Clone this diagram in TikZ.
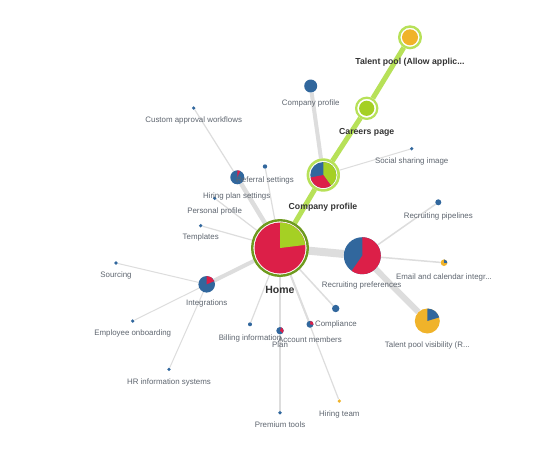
\documentclass[tikz,border=0pt]{standalone}
\usepackage{fontspec}
\setmainfont{Liberation Sans}
\usepackage{tikz}
\usetikzlibrary{backgrounds}
\definecolor{ob-red}{HTML}{DC1F48}
\definecolor{ob-blue}{HTML}{31679D}
\definecolor{ob-green}{HTML}{A5D024}
\definecolor{ob-orange}{HTML}{F0B32A}
\definecolor{ob-ring}{HTML}{6E9A1E}
\definecolor{ob-lime}{HTML}{B7E158}
\definecolor{ob-edge}{HTML}{DDDDDD}
\definecolor{ob-text}{HTML}{5F6670}
\definecolor{ob-bold}{HTML}{333333}

% node, start angle, end angle, radius (pt), colour
\newcommand{\pieslice}[5]{%
  \fill[#5] (#1.center) -- ++(#2:#4pt) arc[start angle=#2, end angle=#3, radius=#4pt] -- cycle;}

\tikzset{
  blob/.style={circle, inner sep=0pt, minimum size=#1pt},
  ringed/.style={circle, inner sep=0pt, fill=white, draw=#1},
  lbl/.style={font=\fontsize{7.9}{9}\selectfont, text=ob-text, inner sep=0pt,
    text height=5.9pt, text depth=1.6pt},
  hub/.style={font=\bfseries\fontsize{8.7}{10}\selectfont, text=ob-bold, inner sep=0pt,
    text height=6.4pt, text depth=1.8pt},
  link/.style={ob-edge, line width=#1pt},
  trail/.style={ob-lime, line width=5pt},
}

\begin{document}
\begin{tikzpicture}[x=1pt, y=-1pt, line cap=round, line join=round]
  \useasboundingbox (0,0) rectangle (560,451);

  % main route
  \node[ringed=ob-ring, line width=2.4pt, minimum size=55.6pt] (home) at (280,248) {};
  \node[ringed=ob-lime, line width=2.6pt, minimum size=30.8pt] (cpmain) at (323.3,175) {};
  \node[ringed=ob-lime, line width=2.2pt, minimum size=21.2pt] (careers) at (366.7,108.3) {};
  \node[ringed=ob-lime, line width=2.4pt, minimum size=21.6pt] (tpool) at (410,37.3) {};

  % pages
  \node[blob=13, fill=ob-blue] (cpsmall) at (310.7,86) {};
  \node[blob=3.6, fill=ob-blue] (social) at (411.7,148.7) {};
  \node[blob=14, fill=ob-blue] (hiringplan) at (237.3,177.3) {};
  \node[blob=3.6, fill=ob-blue] (custom) at (193.7,108) {};
  \node[blob=4.4, fill=ob-blue] (referral) at (265,166.5) {};
  \node[blob=3.6, fill=ob-blue] (personal) at (214.7,198.3) {};
  \node[blob=3.6, fill=ob-blue] (templates) at (200.7,225.7) {};
  \node[blob=16.6, fill=ob-blue] (integrations) at (206.7,284.3) {};
  \node[blob=3.6, fill=ob-blue] (sourcing) at (116,263) {};
  \node[blob=3.6, fill=ob-blue] (onboarding) at (132.7,321) {};
  \node[blob=3.6, fill=ob-blue] (hris) at (169,369.3) {};
  \node[blob=37, fill=ob-blue] (recpref) at (362.3,255.7) {};
  \node[blob=6, fill=ob-blue] (rpipe) at (438.3,202.3) {};
  \node[blob=6.6, fill=ob-orange] (email) at (444,262.7) {};
  \node[blob=25, fill=ob-orange] (tpvis) at (427.3,321) {};
  \node[blob=4, fill=ob-blue] (billing) at (250,324.3) {};
  \node[blob=7.4, fill=ob-blue] (plan) at (280,330.7) {};
  \node[blob=7, fill=ob-blue] (account) at (310,324.3) {};
  \node[blob=7.4, fill=ob-blue] (compliance) at (335.7,308.5) {};
  \node[blob=3.6, fill=ob-blue] (premium) at (280,412.7) {};
  \node[blob=3.6, fill=ob-orange] (hiringteam) at (339.3,401) {};

  \begin{pgfonlayer}{background}
    \fill[white] (0,0) rectangle (560,451);
    \draw[trail] (home) -- (cpmain) -- (careers) -- (tpool);
    \draw[link=4] (cpmain) -- (cpsmall);
    \draw[link=1] (cpmain) -- (social);
    \draw[link=4.5] (home) -- (hiringplan);
    \draw[link=1.2] (hiringplan) -- (custom);
    \draw[link=1.2] (home) -- (referral);
    \draw[link=1.2] (home) -- (personal);
    \draw[link=1.2] (home) -- (templates);
    \draw[link=4] (home) -- (integrations);
    \draw[link=1] (integrations) -- (sourcing);
    \draw[link=1] (integrations) -- (onboarding);
    \draw[link=1] (integrations) -- (hris);
    \draw[link=8] (home) -- (recpref);
    \draw[link=1.5] (recpref) -- (rpipe);
    \draw[link=1.5] (recpref) -- (email);
    \draw[link=6] (recpref) -- (tpvis);
    \draw[link=1.2] (home) -- (billing);
    \draw[link=2] (home) -- (plan);
    \draw[link=1.2] (plan) -- (premium);
    \draw[link=2] (home) -- (account);
    \draw[link=1.5] (home) -- (compliance);
    \draw[link=1.2] (home) -- (hiringteam);
  \end{pgfonlayer}

  % pies
  \fill[ob-red] (home) circle (25.5pt);
  \pieslice{home}{90}{7}{25.5}{ob-green}
  \fill[ob-blue] (cpmain) circle (13pt);
  \pieslice{cpmain}{90}{-54}{13}{ob-green}
  \pieslice{cpmain}{-54}{-169}{13}{ob-red}
  \fill[ob-green] (careers) circle (7.6pt);
  \fill[ob-orange] (tpool) circle (8pt);
  \pieslice{hiringplan}{90}{65}{7}{ob-red}
  \pieslice{integrations}{90}{23}{8.3}{ob-red}
  \pieslice{recpref}{90}{-125}{18.5}{ob-red}
  \pieslice{email}{90}{-10}{3.3}{ob-blue}
  \pieslice{tpvis}{90}{17}{12.5}{ob-blue}
  \pieslice{plan}{70}{-40}{3.7}{ob-red}
  \pieslice{account}{80}{-10}{3.5}{ob-red}

  % labels
  \node[hub, font=\bfseries\fontsize{10.5}{12}\selectfont] (home-t) at (280,290.7) {Home};
  \node[hub] (cpmain-t) at (323,207) {Company profile};
  \node[hub] (careers-t) at (366.7,131.7) {Careers page};
  \node[hub] (tpool-t) at (410,61.7) {Talent pool (Allow applic...};
  \node[lbl] (cpsmall-t) at (310.7,103.3) {Company profile};
  \node[lbl] (social-t) at (411.7,161) {Social sharing image};
  \node[lbl] (hiringplan-t) at (236.7,196.7) {Hiring plan settings};
  \node[lbl] (custom-t) at (193.7,120.7) {Custom approval workflows};
  \node[lbl] (referral-t) at (265,180.7) {Referral settings};
  \node[lbl] (personal-t) at (214.7,211) {Personal profile};
  \node[lbl] (templates-t) at (200.7,237.7) {Templates};
  \node[lbl] (integrations-t) at (206.7,303.3) {Integrations};
  \node[lbl] (sourcing-t) at (116,275.7) {Sourcing};
  \node[lbl] (onboarding-t) at (132.7,333.7) {Employee onboarding};
  \node[lbl] (hris-t) at (169,382.3) {HR information systems};
  \node[lbl] (recpref-t) at (361.7,285.3) {Recruiting preferences};
  \node[lbl] (rpipe-t) at (438.3,216.7) {Recruiting pipelines};
  \node[lbl] (email-t) at (444,277.7) {Email and calendar integr...};
  \node[lbl] (tpvis-t) at (427.3,345) {Talent pool visibility (R...};
  \node[lbl] (billing-t) at (250,338.3) {Billing information};
  \node[lbl] (plan-t) at (280,345.7) {Plan};
  \node[lbl] (account-t) at (310,340) {Account members};
  \node[lbl] (compliance-t) at (336,324) {Compliance};
  \node[lbl] (premium-t) at (280,425.3) {Premium tools};
  \node[lbl] (hiringteam-t) at (339.3,414) {Hiring team};
\end{tikzpicture}
\end{document}
